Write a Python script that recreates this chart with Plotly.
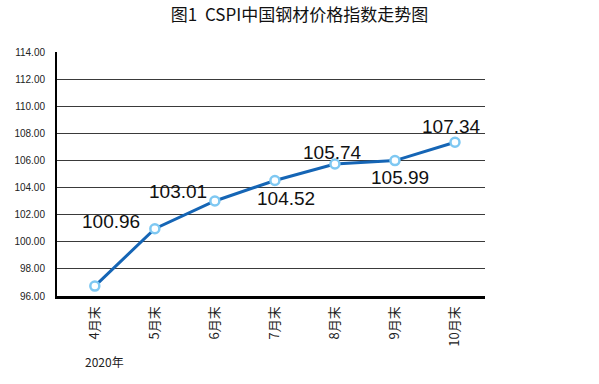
import plotly.graph_objects as go

categories = ["4月末", "5月末", "6月末", "7月末", "8月末", "9月末", "10月末"]
values = [96.73, 100.96, 103.01, 104.52, 105.74, 105.99, 107.34]
labels = ["", "100.96", "103.01", "104.52", "105.74", "105.99", "107.34"]
# label placement: (xanchor, yanchor, xshift, yshift)
label_pos = [None,
             ("right", "middle", -13, 7),
             ("right", "middle", -6, 9),
             ("center", "middle", 11, -18),
             ("center", "middle", -2, 11),
             ("center", "middle", 5, -17),
             ("center", "middle", -3, 16)]

xi = list(range(len(categories)))

fig = go.Figure()
fig.add_trace(go.Scatter(
    x=xi, y=values, mode="lines+markers",
    line=dict(color="#1565b5", width=3),
    marker=dict(symbol="circle", size=9, color="white",
                line=dict(color="#7ec8f2", width=2.5)),
    showlegend=False, hoverinfo="skip"))

for i, (v, t) in enumerate(zip(values, labels)):
    if not t:
        continue
    xa, ya, xs, ys = label_pos[i]
    fig.add_annotation(x=xi[i], y=v, text=t, showarrow=False,
                       xanchor=xa, yanchor=ya, xshift=xs, yshift=ys,
                       font=dict(family="Liberation Sans, Arial", size=19, color="#111"))

fig.add_annotation(xref="paper", yref="paper", x=0.0, y=-0.27, xshift=26,
                   text="2020年", showarrow=False, xanchor="left", yanchor="middle",
                   font=dict(family="Noto Sans CJK SC", size=12, color="#222"))

fig.update_layout(
    width=599, height=384,
    margin=dict(l=57, r=114, t=52, b=88),
    paper_bgcolor="white", plot_bgcolor="white",
    title=dict(text="图1  CSPI中国钢材价格指数走势图", x=0.5, xanchor="center",
               y=0.962, yanchor="middle",
               font=dict(family="Noto Sans CJK SC", size=17, color="#111")),
    xaxis=dict(range=[-0.63, 6.5], tickmode="array", tickvals=xi, ticktext=categories,
               tickangle=-90, showgrid=False, showline=True, linecolor="black",
               linewidth=3, ticks="", zeroline=False, ticklabelstandoff=2,
               tickfont=dict(family="Noto Sans CJK SC", size=13, color="#222")),
    yaxis=dict(range=[96, 114], dtick=2, tick0=96, tickformat=".2f",
               showgrid=True, gridcolor="#3a3a3a", gridwidth=1,
               showline=True, linecolor="black", linewidth=2, ticks="",
               zeroline=False, ticklabelstandoff=8,
               tickfont=dict(family="Liberation Sans, Arial", size=10, color="#222")),
)

fig.write_html("out.html", config={"displayModeBar": False},
               post_script="document.body.style.margin='0';")
